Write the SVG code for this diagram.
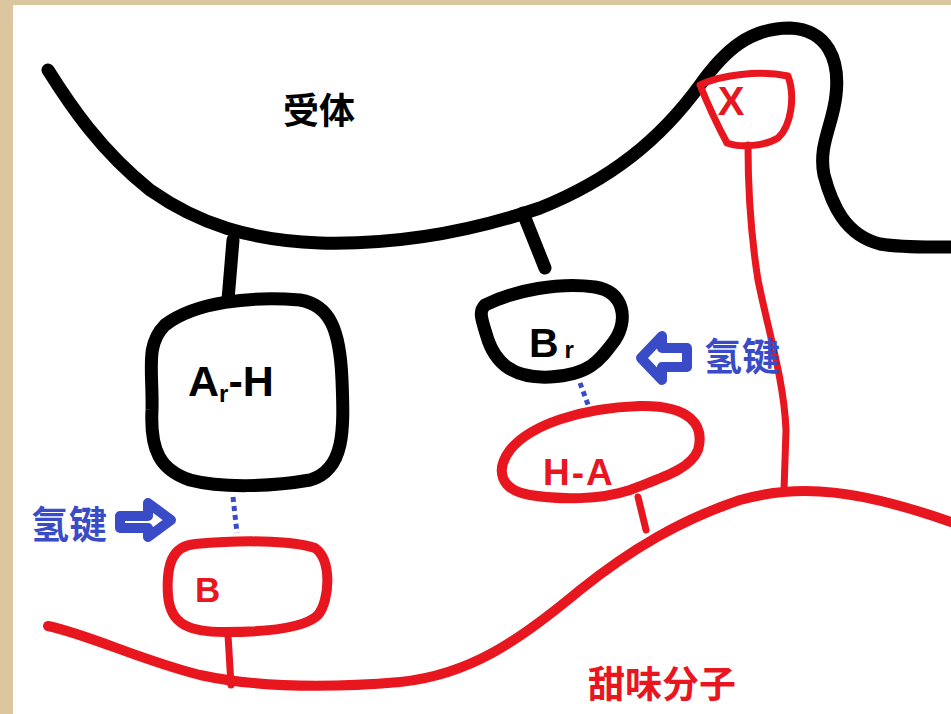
<svg xmlns="http://www.w3.org/2000/svg" width="951" height="714" viewBox="0 0 951 714">
<style>
.blk{fill:none;stroke:#000;stroke-width:13;stroke-linecap:round;stroke-linejoin:round}
.red{fill:none;stroke:#e8161e;stroke-width:10;stroke-linecap:round;stroke-linejoin:round}
.redt{fill:none;stroke:#e8161e;stroke-width:7;stroke-linecap:round;stroke-linejoin:round}
.dot{fill:none;stroke:#3a4bc8;stroke-width:5;stroke-dasharray:5 4}
.arr{fill:#fff;stroke:#3a4bc8;stroke-width:10;stroke-linejoin:round}
.t{font-family:"Liberation Sans","Noto Sans CJK SC",sans-serif;font-weight:bold}
.cn{font-family:"Noto Sans CJK SC",sans-serif;font-weight:bold}
</style>
<rect x="0" y="0" width="951" height="714" fill="#dcc6a0"/>
<rect x="13" y="5" width="938" height="709" fill="#fff"/>
<g id="receptor">
<path class="blk" d="M48,70 C70,105 100,150 150,190 C200,225 250,240 320,243 C400,245 470,232 540,208 C610,180 660,140 700,85 C725,50 750,28 790,28 C828,30 840,60 836,95 C833,125 818,145 824,175 C832,205 845,235 880,244 C905,248 930,247 951,247" stroke-width="14"/>
<text class="cn" x="319" y="124" font-size="36" text-anchor="middle" fill="#000">受体</text>
</g>
<g id="sweet">
<path class="red" d="M48,626 C90,635 140,660 200,675 C260,688 330,688 400,682 C470,675 520,640 580,590 C630,550 680,520 740,500 C800,483 860,490 951,522" stroke-width="12"/>
<text class="cn" x="662" y="698" font-size="37" text-anchor="middle" fill="#e8161e">甜味分子</text>
</g>
<g id="connectors">
<path class="blk" d="M233,240 L228,300" stroke-width="9"/>
<path class="blk" d="M523,213 L545,268" stroke-width="9"/>
<path class="redt" d="M228,635 L231,685"/>
<path class="redt" d="M638,497 L646,530"/>
<path class="redt" d="M748,145 C748,180 750,230 758,280 C768,330 784,380 786,430 L784,490"/>
<path class="dot" d="M233,497 L237,533"/>
<path class="dot" d="M580,383 L590,410"/>
</g>
<g id="ArH">
<path class="blk" d="M165,325 C195,302 250,296 300,300 C330,305 340,330 342,380 C344,430 345,470 310,480 C270,487 220,488 190,480 C160,470 150,450 152,410 C153,370 145,345 165,325 Z" stroke-width="12"/>
<text class="t" x="188" y="396" font-size="43" fill="#000">A<tspan font-size="24" dy="6">r</tspan><tspan dy="-6">-H</tspan></text>
</g>
<g id="Br">
<path class="blk" d="M485,305 C515,290 560,282 595,287 C625,292 628,320 615,340 C600,360 590,375 550,377 C510,379 495,360 488,340 C482,320 478,312 485,305 Z" stroke-width="11"/>
<text class="t" x="529" y="357" font-size="41" fill="#000">B<tspan font-size="24" dx="6" dy="1">r</tspan></text>
</g>
<g id="HA">
<path class="red" d="M510,450 C530,425 580,408 640,406 C690,405 705,425 698,450 C690,470 660,478 630,490 C600,500 560,500 530,495 C500,490 495,470 510,450 Z"/>
<text class="t" x="543" y="485" font-size="37" letter-spacing="2" fill="#e8161e">H-A</text>
</g>
<g id="B">
<path class="red" d="M195,544 C240,540 290,540 315,548 C332,560 330,600 318,615 C305,628 270,632 225,632 C190,632 170,625 168,595 C166,565 172,546 195,544 Z"/>
<text class="t" x="195" y="602" font-size="35" fill="#e8161e">B</text>
</g>
<g id="X">
<path class="redt" d="M700,85 C720,75 760,70 788,76 C795,95 792,125 778,138 C765,146 740,148 727,143 C720,130 712,115 700,85 Z" stroke-width="8"/>
<text class="t" x="731" y="115" font-size="40" text-anchor="middle" fill="#e8161e">X</text>
</g>
<g id="hbond-left">
<text class="cn" x="31" y="538" font-size="38" fill="#3a4bc8">氢键</text>
<path class="arr" d="M120,516 L148,516 L148,503 L171,520 L148,537 L148,528 L120,528 Z"/>
</g>
<g id="hbond-right">
<path class="arr" d="M687,348 L662,348 L662,336 L641,358 L662,380 L662,367 L687,367 Z"/>
<text class="cn" x="704" y="370" font-size="38" fill="#3a4bc8">氢键</text>
</g>
</svg>
